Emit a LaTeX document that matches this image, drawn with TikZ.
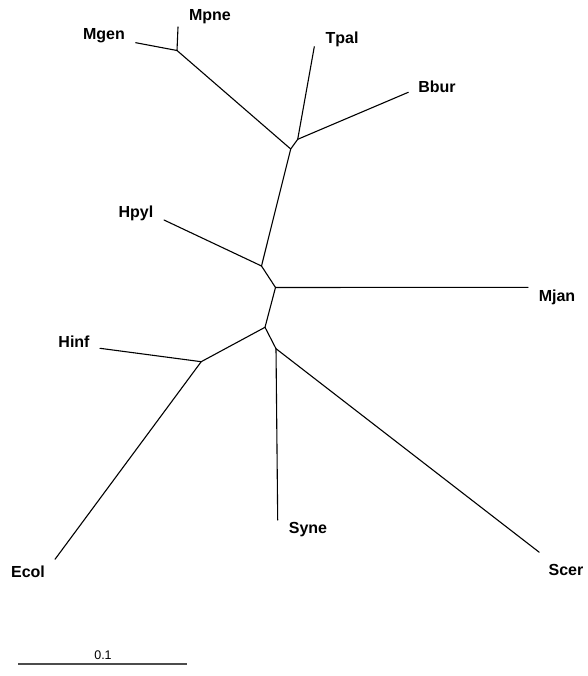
\documentclass[tikz,border=0pt]{standalone}
\usepackage{fontspec}
\setmainfont{Liberation Sans}
\begin{document}
\begin{tikzpicture}[x=1pt,y=-1pt,
  branch/.style={line width=1.1pt, line cap=round, line join=round, black},
  taxon/.style={font=\fontsize{16}{18}\selectfont\bfseries, inner sep=0pt, anchor=center},
  scalebar/.style={line width=1.4pt, black!70},
  scalelabel/.style={font=\fontsize{12.5}{14}\selectfont, inner sep=0pt, anchor=center}]
\useasboundingbox (0,0) rectangle (587,676);
% internal nodes
\coordinate (A) at (177,50.5);
\coordinate (B) at (297.7,139.3);
\coordinate (C) at (290.7,149);
\coordinate (D) at (261.5,266);
\coordinate (E) at (275.5,287.5);
\coordinate (F) at (265,327.3);
\coordinate (G) at (201.2,361.7);
\coordinate (H) at (276,348.7);
% tips
\coordinate (tMpne) at (178,27);
\coordinate (tMgen) at (135.7,42.7);
\coordinate (tTpal) at (314.3,46.7);
\coordinate (tBbur) at (408.3,92.3);
\coordinate (tHpyl) at (164,220);
\coordinate (tMjan) at (528,287.3);
\coordinate (tHinf) at (100,348.3);
\coordinate (tEcol) at (55,559.3);
\coordinate (tSyne) at (277.7,520);
\coordinate (tScer) at (539.3,552.3);
% labels
\node[taxon] (Mpne) at (210,17) {Mpne};
\node[taxon] (Mgen) at (104,36) {Mgen};
\node[taxon] (Tpal) at (342,39.5) {Tpal};
\node[taxon] (Bbur) at (437,87) {Bbur};
\node[taxon] (Hpyl) at (136,213) {Hpyl};
\node[taxon] (Mjan) at (557,297) {Mjan};
\node[taxon] (Hinf) at (74,342) {Hinf};
\node[taxon] (Ecol) at (28,572) {Ecol};
\node[taxon] (Syne) at (308,530) {Syne};
\node[taxon] (Scer) at (566,570) {Scer};
% branches
\draw[branch] (A) -- (tMpne);
\draw[branch] (A) -- (tMgen);
\draw[branch] (A) -- (C);
\draw[branch] (B) -- (tTpal);
\draw[branch] (B) -- (tBbur);
\draw[branch] (B) -- (C);
\draw[branch] (C) -- (D);
\draw[branch] (D) -- (tHpyl);
\draw[branch] (D) -- (E);
\draw[branch] (E) -- (tMjan);
\draw[branch] (E) -- (F);
\draw[branch] (F) -- (G);
\draw[branch] (G) -- (tHinf);
\draw[branch] (G) -- (tEcol);
\draw[branch] (F) -- (H);
\draw[branch] (H) -- (tSyne);
\draw[branch] (H) -- (tScer);
% scale bar
\coordinate (s1) at (18,664);
\coordinate (s2) at (187,664);
\draw[scalebar] (s1) -- (s2);
\node[scalelabel] (scale) at (103,655) {0.1};
\end{tikzpicture}
\end{document}
